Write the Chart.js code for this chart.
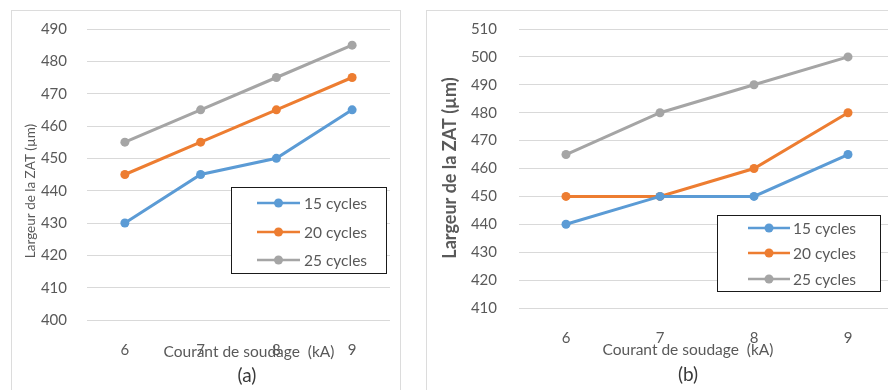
<!DOCTYPE html>
<html>
<head>
<meta charset="utf-8">
<script src="https://cdn.jsdelivr.net/npm/chart.js@4/dist/chart.umd.min.js"></script>
<style>
  html, body { margin: 0; padding: 0; background: #fff; width: 888px; height: 390px; overflow: hidden; }
  .frame { position: absolute; border: 1px solid #dcdcdc; box-sizing: border-box; }
  canvas { position: absolute; }
</style>
</head>
<body>
<div class="frame" style="left:11px;top:10px;width:390px;height:390px"></div>
<div class="frame" style="left:426px;top:10px;width:480px;height:390px"></div>
<canvas id="chartA" width="388" height="390" style="left:12px;top:0px"></canvas>
<canvas id="chartB" width="475" height="392" style="left:427px;top:-2px"></canvas>
<script>
// Welding current (kA) on the x axis
const categories = ['6', '7', '8', '9'];
const seriesLabels = ['15 cycles', '20 cycles', '25 cycles'];
const seriesColors = ['#5B9BD5', '#ED7D31', '#A5A5A5'];

// HAZ width (µm), panel (a)
const zatA15 = [430, 445, 450, 465];
const zatA20 = [445, 455, 465, 475];
const zatA25 = [455, 465, 475, 485];

// HAZ width (µm), panel (b)
const zatB15 = [440, 450, 450, 465];
const zatB20 = [450, 450, 460, 480];
const zatB25 = [465, 480, 490, 500];

// y-axis ranges
const yRangeA = { min: 400, max: 490, step: 10 };
const yRangeB = { min: 410, max: 510, step: 10 };

const xTitle = 'Courant de soudage  (kA)';
const yTitle = 'Largeur de la ZAT (µm)';

const FONT = 'Lato, "Open Sans", sans-serif';
const GREY_TEXT = '#595959';

function makeDatasets(values) {
  return values.map((v, i) => ({
    label: seriesLabels[i],
    data: v,
    borderColor: seriesColors[i],
    backgroundColor: seriesColors[i],
    borderWidth: 3,
    pointRadius: 4.5,
    pointHoverRadius: 4.5,
    pointBorderWidth: 0,
    tension: 0
  }));
}

// Axis titles, panel tag and boxed legend
const panelDecor = {
  id: 'panelDecor',
  afterDraw(chart, args, o) {
    const ctx = chart.ctx;
    ctx.save();
    // y title
    ctx.fillStyle = GREY_TEXT;
    ctx.font = o.yFont;
    ctx.textAlign = 'center';
    ctx.textBaseline = 'middle';
    ctx.translate(o.yTitlePos[0], o.yTitlePos[1]);
    ctx.rotate(-Math.PI / 2);
    ctx.fillText(yTitle, 0, 0);
    ctx.setTransform(1, 0, 0, 1, 0, 0);
    // x title
    ctx.font = o.xFont;
    ctx.fillText(xTitle, o.xTitlePos[0], o.xTitlePos[1]);
    // panel tag
    ctx.fillStyle = '#3a3a3a';
    ctx.font = '19px ' + FONT;
    ctx.fillText(o.tag, o.tagPos[0], o.tagPos[1]);
    // legend
    const L = o.legend;
    ctx.fillStyle = '#fff';
    ctx.fillRect(L.x, L.y, L.w, L.h);
    ctx.strokeStyle = '#1a1a1a';
    ctx.lineWidth = 1;
    ctx.strokeRect(L.x + 0.5, L.y + 0.5, L.w, L.h);
    chart.data.datasets.forEach((ds, i) => {
      const yy = L.rows[i];
      ctx.strokeStyle = ds.borderColor;
      ctx.lineWidth = 2.5;
      ctx.beginPath();
      ctx.moveTo(L.lineX0, yy);
      ctx.lineTo(L.lineX1, yy);
      ctx.stroke();
      ctx.fillStyle = ds.backgroundColor;
      ctx.beginPath();
      ctx.arc((L.lineX0 + L.lineX1) / 2, yy, 4.5, 0, Math.PI * 2);
      ctx.fill();
      ctx.fillStyle = GREY_TEXT;
      ctx.font = L.font;
      ctx.textAlign = 'left';
      ctx.textBaseline = 'middle';
      ctx.fillText(ds.label, L.textX, yy + 1);
    });
    ctx.restore();
  }
};

function makeChart(id, values, yRange, cfg) {
  return new Chart(document.getElementById(id), {
    type: 'line',
    data: { labels: categories, datasets: makeDatasets(values) },
    plugins: [panelDecor],
    options: {
      responsive: false,
      animation: false,
      events: [],
      layout: { padding: { top: cfg.padTop, right: cfg.padRight, left: 0, bottom: 0 } },
      scales: {
        x: {
          type: 'category',
          offset: true,
          grid: { display: false },
          border: { display: false },
          ticks: { color: GREY_TEXT, font: { family: FONT, size: cfg.tickSize }, padding: cfg.xTickPad, maxRotation: 0 },
          afterFit(s) { s.height = cfg.xHeight; }
        },
        y: {
          min: yRange.min,
          max: yRange.max,
          grid: { color: '#d9d9d9', lineWidth: 1, drawTicks: false },
          border: { display: false },
          ticks: { stepSize: yRange.step, color: GREY_TEXT, font: { family: FONT, size: cfg.tickSize }, padding: cfg.yTickPad },
          afterFit(s) { s.width = cfg.yWidth; }
        }
      },
      plugins: {
        legend: { display: false },
        tooltip: { enabled: false },
        panelDecor: cfg.decor
      }
    }
  });
}

makeChart('chartA', [zatA15, zatA20, zatA25], yRangeA, {
  padTop: 0, padRight: 10, xHeight: 70, yWidth: 75, tickSize: 15, xTickPad: 13, yTickPad: 20,
  decor: {
    yFont: '13.5px ' + FONT, yTitlePos: [19, 191],
    xFont: '15.5px ' + FONT, xTitlePos: [237, 352],
    tag: '(a)', tagPos: [235, 376],
    legend: {
      x: 219, y: 187, w: 155, h: 86,
      rows: [203, 232, 260], lineX0: 245, lineX1: 288, textX: 292,
      font: '15.5px ' + FONT
    }
  }
});

makeChart('chartB', [zatB15, zatB20, zatB25], yRangeB, {
  padTop: 0, padRight: 7, xHeight: 82, yWidth: 92, tickSize: 15, xTickPad: 13, yTickPad: 22,
  decor: {
    yFont: 'bold 18px ' + FONT, yTitlePos: [23, 170],
    xFont: '15.5px ' + FONT, xTitlePos: [261, 352],
    tag: '(b)', tagPos: [261, 377],
    legend: {
      x: 290, y: 217, w: 163, h: 76,
      rows: [230, 255, 281], lineX0: 321, lineX1: 363, textX: 366,
      font: '15.5px ' + FONT
    }
  }
});
</script>
</body>
</html>
